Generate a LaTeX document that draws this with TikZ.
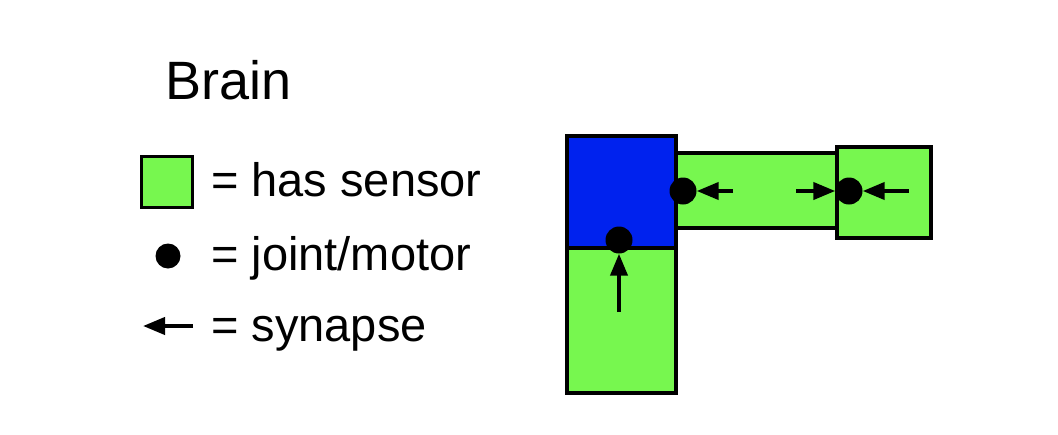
\documentclass[tikz,border=0pt]{standalone}
\usepackage{fontspec}
\setmainfont{Liberation Sans}
\usetikzlibrary{arrows.meta}
\definecolor{sensorgreen}{RGB}{119,247,79}
\definecolor{brainblue}{RGB}{0,34,238}
\tikzset{
  part/.style={draw,line width=3.5pt,fill=sensorgreen,inner sep=0pt},
  joint/.style={circle,fill=black,inner sep=0pt,minimum size=27pt},
  synapse/.style={line width=4pt,-{Triangle[length=22pt,width=17pt]}},
  label/.style={anchor=base west,inner sep=0pt,font=\fontsize{47}{52}\selectfont}
}
\begin{document}
\begin{tikzpicture}[x=1pt,y=-1pt]
            \useasboundingbox (0,0) rectangle (1058,434);
            % legend
            \node[anchor=base west,inner sep=0pt,font=\fontsize{54}{60}\selectfont] (title) at (165,99) {Brain};
            \node[part,minimum width=51pt,minimum height=51pt] (key) at (167,182) {};
            \node[label] (keytext) at (211,196) {= has sensor};
            \node[joint,minimum size=25pt] (keydot) at (168,256) {};
            \node[label] (dottext) at (211,270) {= joint/motor};
            \coordinate (keyfrom) at (193,326);
            \coordinate (keyto) at (143,326);
            \draw[synapse] (keyfrom)--(keyto);
            \node[label] (syntext) at (211,341) {= synapse};
            % body
            \node[part,fill=brainblue,minimum width=109pt,minimum height=112pt] (brain) at (621.5,192) {};
            \node[part,minimum width=109pt,minimum height=145pt] (lower) at (621.5,320.5) {};
            \node[part,minimum width=161pt,minimum height=75pt] (bar) at (756.5,190.5) {};
            \node[part,minimum width=94pt,minimum height=91pt] (tip) at (884,192.5) {};
            \node[joint] (j1) at (683,191) {};
            \node[joint] (j2) at (849,191) {};
            \node[joint] (j3) at (619,240) {};
            \coordinate (s1) at (733,191);
            \coordinate (s2) at (796,191);
            \coordinate (s3) at (909,191);
            \coordinate (s4) at (619,312);
            \draw[synapse] (s1)--(j1);
            \draw[synapse] (s2)--(j2);
            \draw[synapse] (s3)--(j2);
            \draw[synapse] (s4)--(j3);
\end{tikzpicture}
\end{document}
